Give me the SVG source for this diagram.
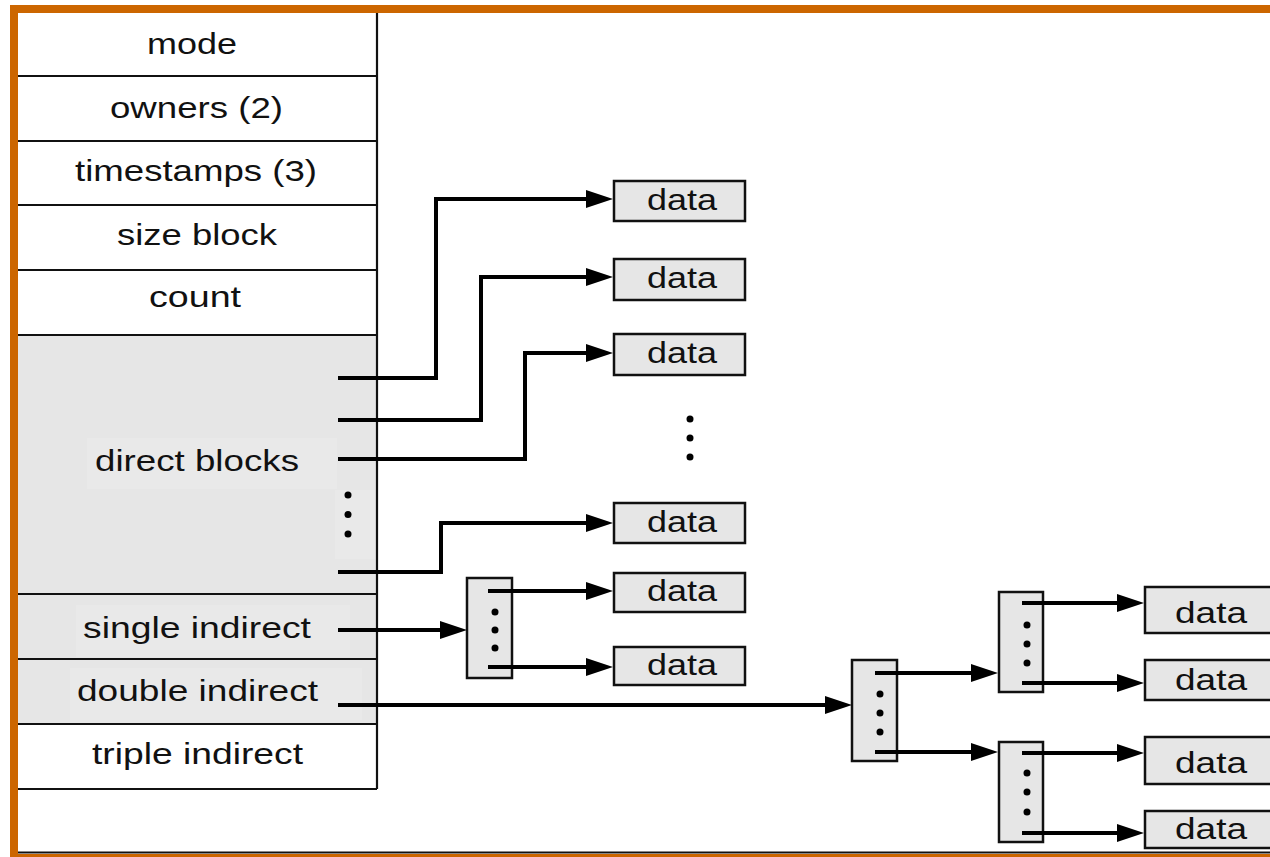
<svg xmlns="http://www.w3.org/2000/svg" width="1270" height="857" viewBox="0 0 1270 857">
  <defs>
    <style>
      .t { font-family: "Liberation Sans", Arial, sans-serif; font-size: 29px; fill: #111; text-anchor: middle; }
      .sep { stroke: #111; stroke-width: 2.2; fill: none; }
      .gray { fill: #e6e6e6; }
      .patch { fill: #e9e9e9; }
      .box { fill: #e6e6e6; stroke: #111; stroke-width: 2.5; }
      .ptr { fill: #e6e6e6; stroke: #111; stroke-width: 2.5; }
      .conn { stroke: #000; stroke-width: 4; fill: none; stroke-linejoin: miter; }
      .arr { stroke: #000; stroke-width: 4; fill: none; marker-end: url(#ah); }
      .dot { fill: #000; }
    </style>
    <marker id="ah" markerUnits="userSpaceOnUse" markerWidth="28" markerHeight="20" refX="17" refY="9" orient="auto">
      <path d="M0,0 L27,9 L0,18 Z" fill="#000"/>
    </marker>
  </defs>

  <rect width="1270" height="857" fill="#fff"/>

  <!-- inode table -->
  <g id="inode">
    <rect class="gray" x="18" y="335" width="359" height="389"/>
    <rect class="patch" x="87" y="438" width="250" height="51"/>
    <rect class="patch" x="335" y="490" width="40" height="69"/>
    <rect class="patch" x="76" y="605" width="274" height="52"/>
    <rect class="patch" x="70" y="668" width="292" height="52"/>
    <line class="sep" x1="377" y1="13" x2="377" y2="789"/>
    <line class="sep" x1="18" y1="76" x2="377" y2="76"/>
    <line class="sep" x1="18" y1="141" x2="377" y2="141"/>
    <line class="sep" x1="18" y1="205" x2="377" y2="205"/>
    <line class="sep" x1="18" y1="270" x2="377" y2="270"/>
    <line class="sep" x1="18" y1="335" x2="377" y2="335"/>
    <line class="sep" x1="18" y1="594" x2="377" y2="594"/>
    <line class="sep" x1="18" y1="659" x2="377" y2="659"/>
    <line class="sep" x1="18" y1="724" x2="377" y2="724"/>
    <line class="sep" x1="18" y1="789" x2="377" y2="789"/>
    <text class="t" x="192" y="54" textLength="90" lengthAdjust="spacingAndGlyphs">mode</text>
    <text class="t" x="196.5" y="118" textLength="173" lengthAdjust="spacingAndGlyphs">owners (2)</text>
    <text class="t" x="196" y="181" textLength="242" lengthAdjust="spacingAndGlyphs">timestamps (3)</text>
    <text class="t" x="197" y="245" textLength="160" lengthAdjust="spacingAndGlyphs">size block</text>
    <text class="t" x="195" y="307" textLength="92" lengthAdjust="spacingAndGlyphs">count</text>
    <text class="t" x="197" y="471" textLength="204" lengthAdjust="spacingAndGlyphs">direct blocks</text>
    <text class="t" x="197" y="638" textLength="228" lengthAdjust="spacingAndGlyphs">single indirect</text>
    <text class="t" x="197.5" y="701" textLength="241" lengthAdjust="spacingAndGlyphs">double indirect</text>
    <text class="t" x="197.5" y="764" textLength="211" lengthAdjust="spacingAndGlyphs">triple indirect</text>
    <circle class="dot" cx="348" cy="495" r="3.5"/>
    <circle class="dot" cx="348" cy="514.5" r="3.5"/>
    <circle class="dot" cx="348" cy="534" r="3.5"/>
  </g>

  <!-- direct data blocks -->
  <g id="data1"><rect class="box" x="614" y="181" width="131" height="40"/><text class="t" x="682" y="210" textLength="70" lengthAdjust="spacingAndGlyphs">data</text></g>
  <g id="data2"><rect class="box" x="614" y="259" width="131" height="41"/><text class="t" x="682" y="288" textLength="70" lengthAdjust="spacingAndGlyphs">data</text></g>
  <g id="data3"><rect class="box" x="614" y="334" width="131" height="41"/><text class="t" x="682" y="363" textLength="70" lengthAdjust="spacingAndGlyphs">data</text></g>
  <g id="direct-dots">
    <circle class="dot" cx="690" cy="419" r="3.5"/>
    <circle class="dot" cx="690" cy="438" r="3.5"/>
    <circle class="dot" cx="690" cy="457" r="3.5"/>
  </g>
  <g id="data4"><rect class="box" x="614" y="503" width="131" height="40"/><text class="t" x="682" y="532" textLength="70" lengthAdjust="spacingAndGlyphs">data</text></g>
  <g id="data5"><rect class="box" x="614" y="573" width="131" height="39"/><text class="t" x="682" y="601" textLength="70" lengthAdjust="spacingAndGlyphs">data</text></g>
  <g id="data6"><rect class="box" x="614" y="647" width="131" height="38"/><text class="t" x="682" y="675" textLength="70" lengthAdjust="spacingAndGlyphs">data</text></g>

  <!-- single indirect block -->
  <g id="single-block">
    <rect class="ptr" x="467" y="578" width="45" height="100"/>
    <circle class="dot" cx="495" cy="612" r="3.5"/>
    <circle class="dot" cx="495" cy="630" r="3.5"/>
    <circle class="dot" cx="495" cy="648" r="3.5"/>
  </g>

  <!-- double indirect blocks -->
  <g id="double-block">
    <rect class="ptr" x="852" y="660" width="45" height="101"/>
    <circle class="dot" cx="880" cy="694" r="3.5"/>
    <circle class="dot" cx="880" cy="713" r="3.5"/>
    <circle class="dot" cx="880" cy="732" r="3.5"/>
  </g>
  <g id="double-upper">
    <rect class="ptr" x="999" y="592" width="44" height="100"/>
    <circle class="dot" cx="1027" cy="625" r="3.5"/>
    <circle class="dot" cx="1027" cy="644" r="3.5"/>
    <circle class="dot" cx="1027" cy="663" r="3.5"/>
  </g>
  <g id="double-lower">
    <rect class="ptr" x="999" y="742" width="44" height="100"/>
    <circle class="dot" cx="1027" cy="773" r="3.5"/>
    <circle class="dot" cx="1027" cy="792" r="3.5"/>
    <circle class="dot" cx="1027" cy="812" r="3.5"/>
  </g>
  <g id="data7"><rect class="box" x="1145" y="587" width="140" height="46"/><text class="t" x="1211" y="623" textLength="72" lengthAdjust="spacingAndGlyphs">data</text></g>
  <g id="data8"><rect class="box" x="1145" y="660" width="140" height="40"/><text class="t" x="1211" y="690" textLength="72" lengthAdjust="spacingAndGlyphs">data</text></g>
  <g id="data9"><rect class="box" x="1145" y="737" width="140" height="47"/><text class="t" x="1211" y="773" textLength="72" lengthAdjust="spacingAndGlyphs">data</text></g>
  <g id="data10"><rect class="box" x="1145" y="811" width="140" height="37"/><text class="t" x="1211" y="839" textLength="72" lengthAdjust="spacingAndGlyphs">data</text></g>

  <!-- connectors -->
  <g id="connectors">
    <path class="arr" d="M338,378 H436 V199 H603"/>
    <path class="arr" d="M338,420 H481 V277 H603"/>
    <path class="arr" d="M338,459 H525 V353 H603"/>
    <path class="arr" d="M338,572 H441 V523 H603"/>
    <path class="arr" d="M338,630 H457"/>
    <path class="arr" d="M488,591 H603"/>
    <path class="arr" d="M488,667 H603"/>
    <path class="arr" d="M338,705 H842"/>
    <path class="arr" d="M875,673 H988"/>
    <path class="arr" d="M875,752 H988"/>
    <path class="arr" d="M1022,603 H1134"/>
    <path class="arr" d="M1022,683 H1134"/>
    <path class="arr" d="M1022,753 H1134"/>
    <path class="arr" d="M1022,833 H1134"/>
  </g>

  <!-- frame -->
  <g id="frame">
    <line x1="18" y1="852.5" x2="1270" y2="852.5" stroke="#111" stroke-width="2"/>
    <rect x="10" y="854" width="1260" height="3" fill="#cc6600"/>
    <rect x="10" y="5" width="1260" height="8" fill="#cc6600"/>
    <rect x="10" y="5" width="8" height="852" fill="#cc6600"/>
  </g>
</svg>
